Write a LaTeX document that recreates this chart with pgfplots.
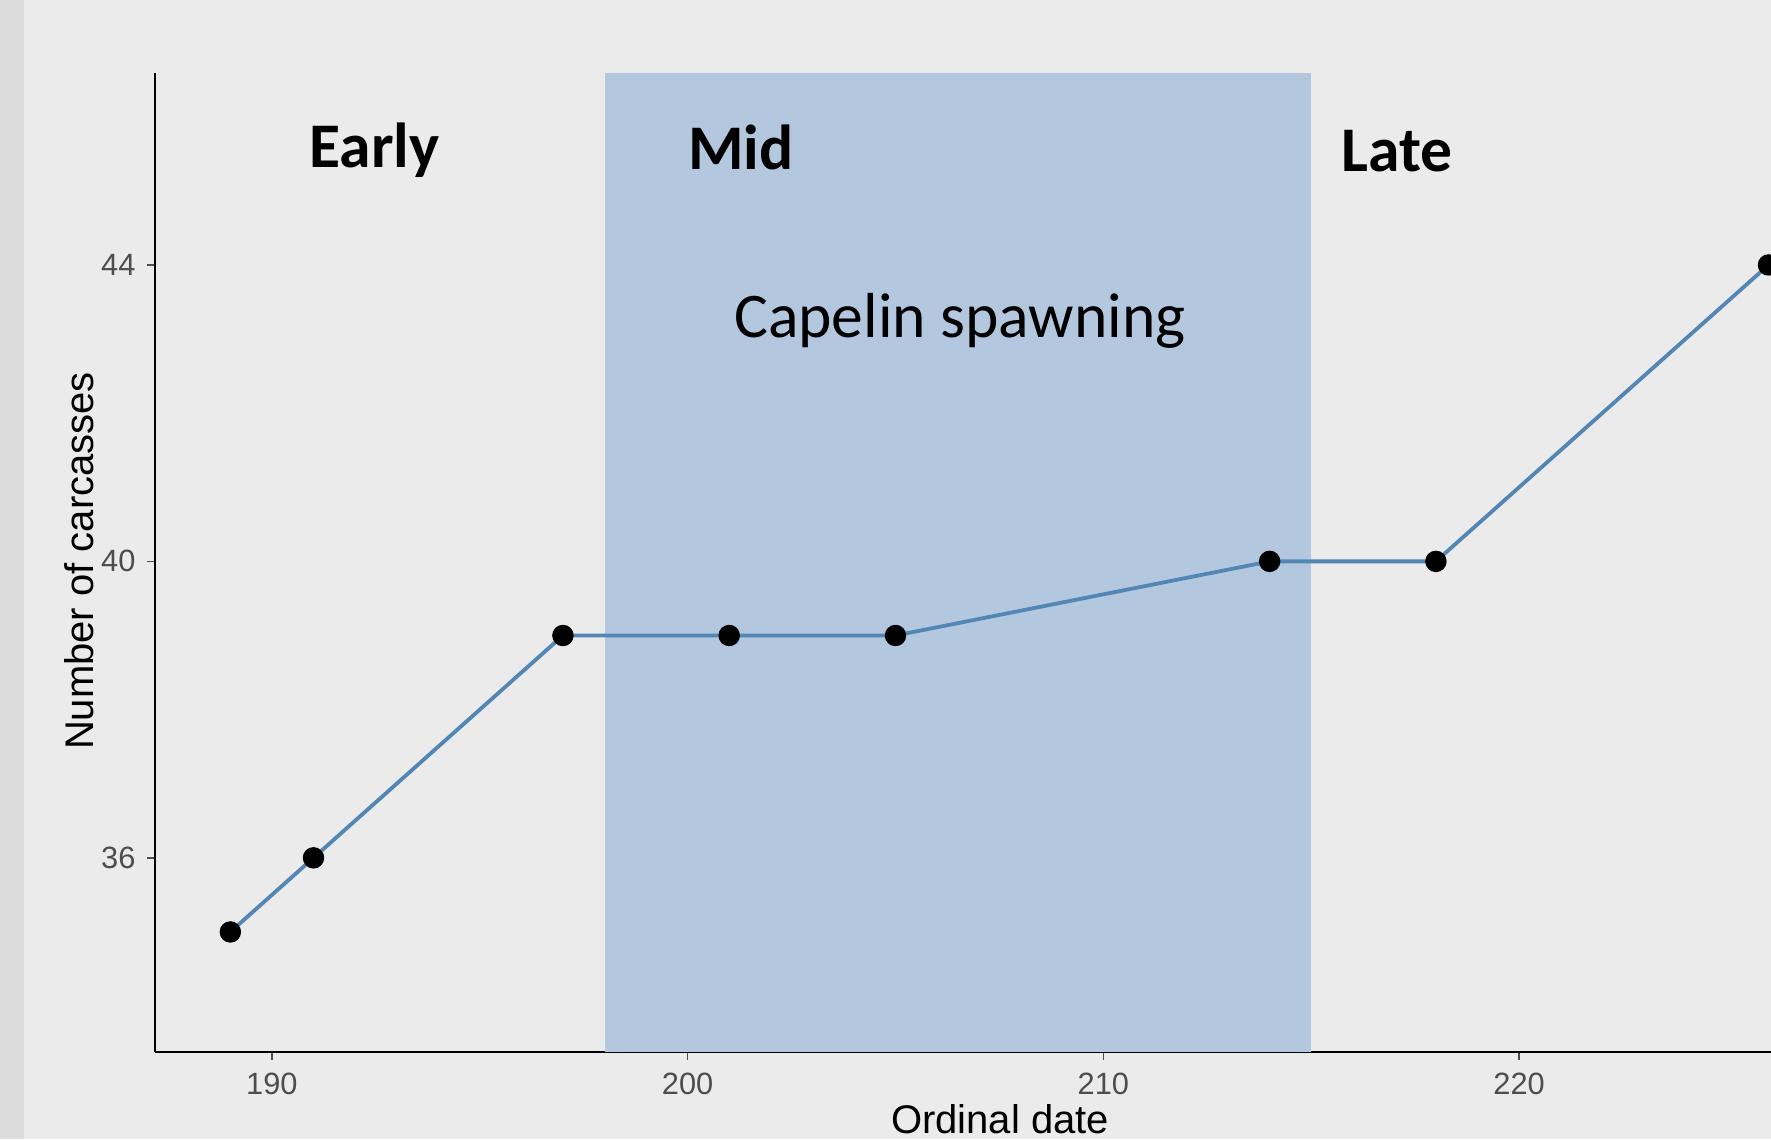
\documentclass[border=0pt]{standalone}
\usepackage{fontspec}
\setmainfont{Liberation Sans}
\newfontfamily\calfont{Carlito}
\usepackage{pgfplots}
\pgfplotsset{compat=1.18}
\definecolor{bgc}{HTML}{EBEBEB}
\definecolor{stripc}{HTML}{DCDCDC}
\definecolor{rectc}{HTML}{B3C7DF}
\definecolor{linec}{HTML}{5287B5}
\definecolor{tickc}{HTML}{4D4D4D}
\begin{document}
\begin{tikzpicture}
\useasboundingbox (0,0) rectangle (442.75pt,284.75pt);
\fill[bgc] (0,0) rectangle (442.75pt,284.75pt);
\fill[stripc] (0,0) rectangle (6pt,284.75pt);
\begin{axis}[
  at={(38.675pt,21.75pt)}, anchor=south west,
  scale only axis, width=404.075pt, height=244.75pt,
  xmin=187.18, xmax=226.06, ymin=33.38, ymax=46.59,
  axis lines=left,
  axis line style={-, line width=0.5pt, black},
  xtick={190,200,210,220}, ytick={36,40,44},
  tick align=outside, major tick length=2pt,
  tick style={line width=0.4pt, tickc},
  /pgf/number format/assume math mode=true,
  ticklabel style={font=\fontsize{7.7}{9}\selectfont, text=tickc},
  xticklabel style={inner sep=0pt, yshift=-3pt},
  yticklabel style={inner sep=0pt, xshift=-2.6pt},
  xlabel={Ordinal date}, ylabel={Number of carcasses},
  label style={font=\fontsize{10}{12}\selectfont},
  xlabel style={at={(axis description cs:0.523,-0.0735)}, anchor=center, yshift=1.3pt},
  ylabel style={at={(axis description cs:-0.0468,0.5015)}, anchor=center},
  clip=true,
]
\addplot[draw=none, fill=rectc] coordinates {(198,33.38) (198,46.59) (215,46.59) (215,33.38)} -- cycle;
\addplot[color=linec, line width=0.95pt, mark=*, mark size=2.2pt, mark options={draw=black, fill=black}]
 coordinates {(189,35) (191,36) (197,39) (201,39) (205,39) (214,40) (218,40) (226,44)};
\node[font=\calfont\bfseries\fontsize{15.9}{19}\selectfont, anchor=center] at (axis cs:192.47,45.55) {Early};
\node[font=\calfont\bfseries\fontsize{15.9}{19}\selectfont, anchor=center] at (axis cs:201.28,45.58) {Mid};
\node[font=\calfont\bfseries\fontsize{15.9}{19}\selectfont, anchor=center] at (axis cs:217.07,45.54) {Late};
\node[font=\calfont\fontsize{15.9}{19}\selectfont, anchor=center] at (axis cs:206.55,43.24) {Capelin spawning};
\end{axis}
\end{tikzpicture}
\end{document}
